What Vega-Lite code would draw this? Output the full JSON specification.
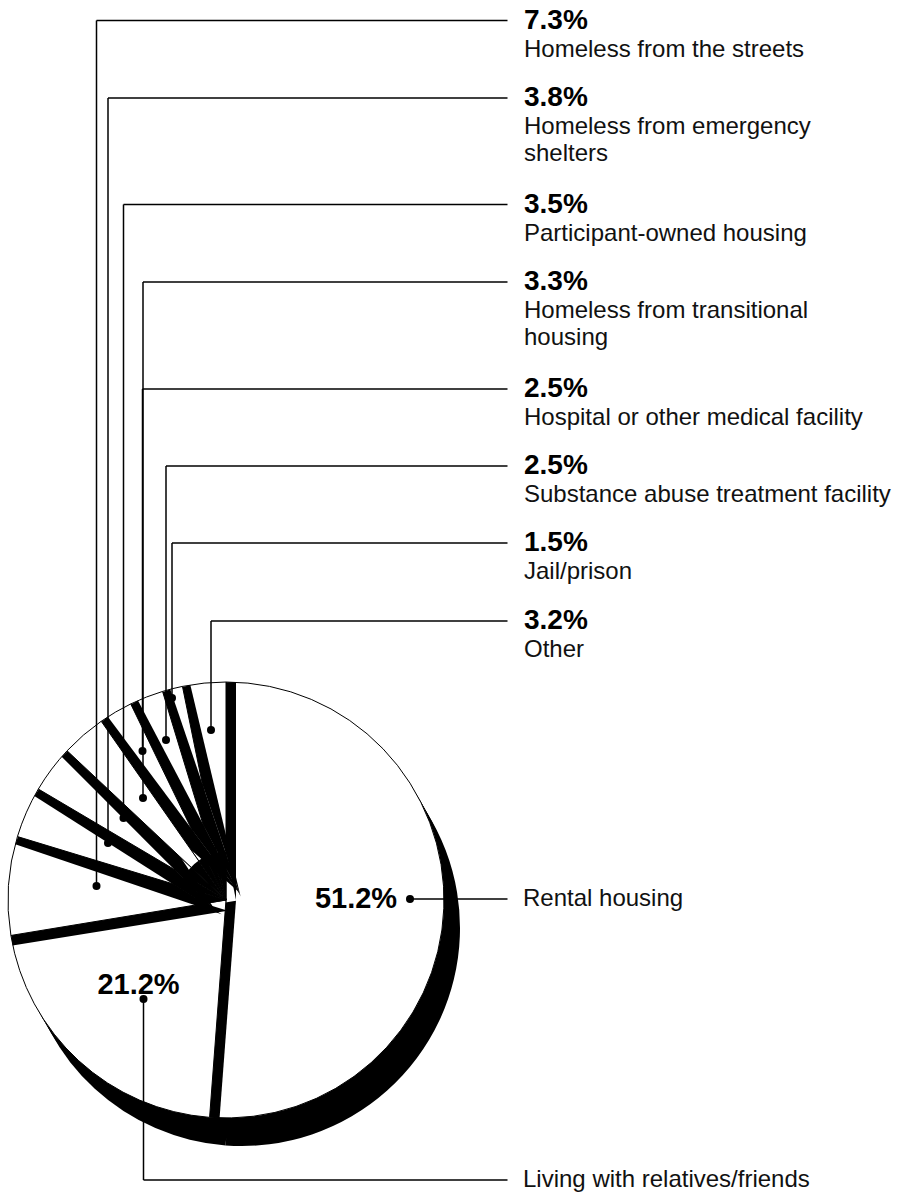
{
  "$schema": "https://vega.github.io/schema/vega-lite/v6.json",
  "width": 912,
  "height": 1197,
  "padding": 0,
  "autosize": {"type": "none"},
  "background": "white",
  "config": {"view": {"stroke": null}},
  "datasets": {
    "slices": [
      {"cat": "Rental housing", "pct": 51.2},
      {"cat": "Living with relatives/friends", "pct": 21.2},
      {"cat": "Homeless from the streets", "pct": 7.3},
      {"cat": "Homeless from emergency shelters", "pct": 3.8},
      {"cat": "Participant-owned housing", "pct": 3.5},
      {"cat": "Homeless from transitional housing", "pct": 3.3},
      {"cat": "Hospital or other medical facility", "pct": 2.5},
      {"cat": "Substance abuse treatment facility", "pct": 2.5},
      {"cat": "Jail/prison", "pct": 1.5},
      {"cat": "Other", "pct": 3.2}
    ],
    "leaders": [
      {"pct": "7.3%", "desc": "Homeless from the streets", "kind": "list", "lx": 96.5, "ly": 20.5, "dotY": 886},
      {"pct": "3.8%", "desc": "Homeless from emergency\nshelters", "kind": "list", "lx": 108, "ly": 98, "dotY": 843},
      {"pct": "3.5%", "desc": "Participant-owned housing", "kind": "list", "lx": 123.5, "ly": 204.5, "dotY": 818},
      {"pct": "3.3%", "desc": "Homeless from transitional\nhousing", "kind": "list", "lx": 143, "ly": 282, "dotY": 798},
      {"pct": "2.5%", "desc": "Hospital or other medical facility", "kind": "list", "lx": 142.5, "ly": 389, "dotY": 751},
      {"pct": "2.5%", "desc": "Substance abuse treatment facility", "kind": "list", "lx": 166, "ly": 466, "dotY": 740},
      {"pct": "1.5%", "desc": "Jail/prison", "kind": "list", "lx": 172, "ly": 543, "dotY": 698},
      {"pct": "3.2%", "desc": "Other", "kind": "list", "lx": 211, "ly": 621, "dotY": 730},
      {"pct": "51.2%", "desc": "Rental housing", "kind": "main", "lx": 410, "ly": 899, "dotY": 899, "tx": 356, "ty": 899},
      {"pct": "21.2%", "desc": "Living with relatives/friends", "kind": "main", "lx": 143.5, "ly": 1180, "dotY": 999, "tx": 138.5, "ty": 985}
    ]
  },
  "layer": [
    {
      "data": {"name": "slices"},
      "transform": [
        {"window": [{"op": "row_number", "as": "idx"}]},
        {"stack": "pct", "groupby": [], "sort": [{"field": "idx", "order": "ascending"}], "as": ["a0", "a1"]}
      ],
      "encoding": {
        "x": {"datum": 226, "type": "quantitative", "scale": {"domain": [0, 912], "nice": false, "zero": false}, "axis": null},
        "y": {"datum": 900, "type": "quantitative", "scale": {"domain": [0, 1197], "nice": false, "zero": false, "reverse": true}, "axis": null}
      },
      "layer": [
        {"mark": {"type": "arc", "outerRadius": 218, "fill": "black", "xOffset": 16, "yOffset": 28},
         "encoding": {"theta": {"field": "a0", "type": "quantitative", "scale": {"domain": [0, 100]}}, "theta2": {"field": "a1"}}},
        {"mark": {"type": "arc", "outerRadius": 218, "fill": "black", "xOffset": 12, "yOffset": 21},
         "encoding": {"theta": {"field": "a0", "type": "quantitative"}, "theta2": {"field": "a1"}}},
        {"mark": {"type": "arc", "outerRadius": 218, "fill": "black", "xOffset": 8, "yOffset": 14},
         "encoding": {"theta": {"field": "a0", "type": "quantitative"}, "theta2": {"field": "a1"}}},
        {"mark": {"type": "arc", "outerRadius": 218, "fill": "black", "xOffset": 4, "yOffset": 7},
         "encoding": {"theta": {"field": "a0", "type": "quantitative"}, "theta2": {"field": "a1"}}},
        {"transform": [{"filter": {"field": "cat", "oneOf": ["Rental housing"]}}],
         "mark": {"type": "arc", "outerRadius": 218, "fill": "white", "stroke": "black", "strokeWidth": 1},
         "encoding": {"theta": {"field": "a0", "type": "quantitative"}, "theta2": {"field": "a1"}}},

        {"transform": [{"filter": {"field": "cat", "oneOf": ["Living with relatives/friends", "Other"]}}],
         "mark": {"type": "arc", "outerRadius": 218, "fill": "black",
                  "theta": {"expr": "2*PI*datum.a0/100"}, "theta2": {"expr": "2*PI*datum.a1/100"},
                  "xOffset": {"expr": "datum.a0 > 90 ? 10*cos(2*PI*datum.a1/100) : -10*cos(2*PI*datum.a0/100)"},
                  "yOffset": {"expr": "datum.a0 > 90 ? 10*sin(2*PI*datum.a1/100) : -10*sin(2*PI*datum.a0/100)"}}},
        {"transform": [{"filter": {"field": "cat", "oneOf": ["Living with relatives/friends", "Other"]}}],
         "mark": {"type": "arc", "outerRadius": 218, "fill": "white", "stroke": "black", "strokeWidth": 1},
         "encoding": {"theta": {"field": "a0", "type": "quantitative"}, "theta2": {"field": "a1"}}},

        {"transform": [{"filter": {"field": "cat", "oneOf": ["Homeless from the streets", "Jail/prison"]}}],
         "mark": {"type": "arc", "outerRadius": 218, "fill": "black",
                  "theta": {"expr": "2*PI*datum.a0/100 + (datum.a0 > 90 ? -0.032 : 0.004)"},
                  "theta2": {"expr": "2*PI*datum.a1/100 + (datum.a0 > 90 ? -0.032 : 0.004)"},
                  "xOffset": {"expr": "datum.a0 > 90 ? 15*cos(2*PI*datum.a1/100) : -11*cos(2*PI*datum.a0/100)"},
                  "yOffset": {"expr": "datum.a0 > 90 ? 15*sin(2*PI*datum.a1/100) : -11*sin(2*PI*datum.a0/100)"}}},
        {"transform": [{"filter": {"field": "cat", "oneOf": ["Homeless from the streets", "Jail/prison"]}}],
         "mark": {"type": "arc", "outerRadius": 218, "fill": "white", "stroke": "black", "strokeWidth": 1},
         "encoding": {"theta": {"field": "a0", "type": "quantitative"}, "theta2": {"field": "a1"}}},

        {"transform": [{"filter": {"field": "cat", "oneOf": ["Homeless from emergency shelters", "Substance abuse treatment facility"]}}],
         "mark": {"type": "arc", "outerRadius": 218, "fill": "black",
                  "theta": {"expr": "2*PI*datum.a0/100 + (datum.a0 > 90 ? -0.032 : 0.032)"},
                  "theta2": {"expr": "2*PI*datum.a1/100 + (datum.a0 > 90 ? -0.032 : 0.032)"},
                  "xOffset": {"expr": "datum.a0 > 90 ? 15*cos(2*PI*datum.a1/100) : -15*cos(2*PI*datum.a0/100)"},
                  "yOffset": {"expr": "datum.a0 > 90 ? 15*sin(2*PI*datum.a1/100) : -15*sin(2*PI*datum.a0/100)"}}},
        {"transform": [{"filter": {"field": "cat", "oneOf": ["Homeless from emergency shelters", "Substance abuse treatment facility"]}}],
         "mark": {"type": "arc", "outerRadius": 218, "fill": "white", "stroke": "black", "strokeWidth": 1},
         "encoding": {"theta": {"field": "a0", "type": "quantitative"}, "theta2": {"field": "a1"}}},

        {"transform": [{"filter": {"field": "cat", "oneOf": ["Participant-owned housing", "Hospital or other medical facility"]}}],
         "mark": {"type": "arc", "outerRadius": 218, "fill": "black",
                  "theta": {"expr": "2*PI*datum.a0/100 + (datum.a0 > 90 ? -0.032 : 0.032)"},
                  "theta2": {"expr": "2*PI*datum.a1/100 + (datum.a0 > 90 ? -0.032 : 0.032)"},
                  "xOffset": {"expr": "datum.a0 > 90 ? 15*cos(2*PI*datum.a1/100) : -15*cos(2*PI*datum.a0/100)"},
                  "yOffset": {"expr": "datum.a0 > 90 ? 15*sin(2*PI*datum.a1/100) : -15*sin(2*PI*datum.a0/100)"}}},
        {"transform": [{"filter": {"field": "cat", "oneOf": ["Participant-owned housing", "Hospital or other medical facility"]}}],
         "mark": {"type": "arc", "outerRadius": 218, "fill": "white", "stroke": "black", "strokeWidth": 1},
         "encoding": {"theta": {"field": "a0", "type": "quantitative"}, "theta2": {"field": "a1"}}},

        {"transform": [{"filter": {"field": "cat", "oneOf": ["Homeless from transitional housing"]}}],
         "mark": {"type": "arc", "outerRadius": 218, "fill": "black",
                  "theta": {"expr": "2*PI*datum.a0/100 + 0.032"}, "theta2": {"expr": "2*PI*datum.a1/100 + 0.032"},
                  "xOffset": {"expr": "-15*cos(2*PI*datum.a0/100)"}, "yOffset": {"expr": "-15*sin(2*PI*datum.a0/100)"}}},
        {"transform": [{"filter": {"field": "cat", "oneOf": ["Homeless from transitional housing"]}}],
         "mark": {"type": "arc", "outerRadius": 218, "fill": "black",
                  "theta": {"expr": "2*PI*datum.a0/100 - 0.032"}, "theta2": {"expr": "2*PI*datum.a1/100 - 0.032"},
                  "xOffset": {"expr": "15*cos(2*PI*datum.a1/100)"}, "yOffset": {"expr": "15*sin(2*PI*datum.a1/100)"}}},
        {"transform": [{"filter": {"field": "cat", "oneOf": ["Homeless from transitional housing"]}}],
         "mark": {"type": "arc", "outerRadius": 218, "fill": "white", "stroke": "black", "strokeWidth": 1},
         "encoding": {"theta": {"field": "a0", "type": "quantitative"}, "theta2": {"field": "a1"}}},

        {"transform": [{"filter": {"field": "cat", "oneOf": ["Homeless from emergency shelters", "Participant-owned housing", "Homeless from transitional housing", "Hospital or other medical facility", "Substance abuse treatment facility", "Jail/prison", "Other"]}}],
         "mark": {"type": "arc", "outerRadius": 48, "fill": "black"},
         "encoding": {"theta": {"field": "a0", "type": "quantitative"}, "theta2": {"field": "a1"}}},
        {"transform": [{"filter": {"field": "cat", "oneOf": ["Homeless from the streets"]}}],
         "mark": {"type": "arc", "outerRadius": 30, "fill": "black"},
         "encoding": {"theta": {"field": "a0", "type": "quantitative"}, "theta2": {"field": "a1"}}}
      ]
    },
    {
      "data": {"name": "leaders"},
      "mark": {"type": "rule", "stroke": "black", "strokeWidth": 1.5},
      "encoding": {
        "x": {"field": "lx", "type": "quantitative", "scale": {"domain": [0, 912], "nice": false, "zero": false}, "axis": null},
        "y": {"field": "dotY", "type": "quantitative", "scale": {"domain": [0, 1197], "nice": false, "zero": false, "reverse": true}, "axis": null},
        "y2": {"field": "ly"}
      }
    },
    {
      "data": {"name": "leaders"},
      "mark": {"type": "rule", "stroke": "black", "strokeWidth": 1.5},
      "encoding": {
        "x": {"field": "lx", "type": "quantitative"},
        "x2": {"datum": 507.5},
        "y": {"field": "ly", "type": "quantitative"}
      }
    },
    {
      "data": {"name": "leaders"},
      "mark": {"type": "point", "filled": true, "fill": "black", "stroke": null, "size": 64, "opacity": 1},
      "encoding": {
        "x": {"field": "lx", "type": "quantitative"},
        "y": {"field": "dotY", "type": "quantitative"}
      }
    },
    {
      "data": {"name": "leaders"},
      "transform": [{"filter": "datum.kind == 'list'"}],
      "mark": {"type": "text", "align": "left", "baseline": "middle", "font": "Liberation Sans", "fontWeight": "bold", "fontSize": 28, "fill": "black"},
      "encoding": {
        "x": {"datum": 524, "type": "quantitative"},
        "y": {"field": "ly", "type": "quantitative"},
        "text": {"field": "pct"}
      }
    },
    {
      "data": {"name": "leaders"},
      "transform": [{"filter": "datum.kind == 'list'"}],
      "mark": {"type": "text", "align": "left", "baseline": "alphabetic", "yOffset": 36, "lineBreak": "\n", "lineHeight": 27, "font": "Liberation Sans", "fontSize": 24, "fill": "#111111"},
      "encoding": {
        "x": {"datum": 524, "type": "quantitative"},
        "y": {"field": "ly", "type": "quantitative"},
        "text": {"field": "desc"}
      }
    },
    {
      "data": {"name": "leaders"},
      "transform": [{"filter": "datum.kind == 'main'"}],
      "mark": {"type": "text", "align": "left", "baseline": "middle", "font": "Liberation Sans", "fontSize": 24, "fill": "#111111"},
      "encoding": {
        "x": {"datum": 523, "type": "quantitative"},
        "y": {"field": "ly", "type": "quantitative"},
        "text": {"field": "desc"}
      }
    },
    {
      "data": {"name": "leaders"},
      "transform": [{"filter": "datum.kind == 'main'"}],
      "mark": {"type": "text", "align": "center", "baseline": "middle", "font": "Liberation Sans", "fontWeight": "bold", "fontSize": 29, "fill": "black"},
      "encoding": {
        "x": {"field": "tx", "type": "quantitative"},
        "y": {"field": "ty", "type": "quantitative"},
        "text": {"field": "pct"}
      }
    }
  ]
}
